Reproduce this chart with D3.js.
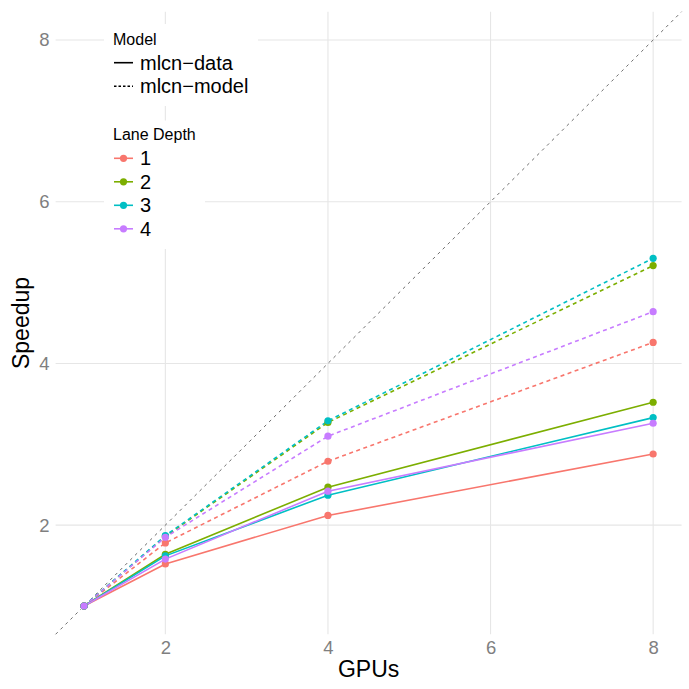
<!DOCTYPE html>
<html>
<head>
<meta charset="utf-8">
<script src="https://cdn.jsdelivr.net/npm/d3@7"></script>
<style>
  html, body { margin: 0; padding: 0; background: #fff; }
  text { font-family: "Liberation Sans", Arial, Helvetica, sans-serif; }
</style>
</head>
<body>
<svg id="chart"></svg>
<script>
const width = 689;
const height = 689;

// data
const gpus = [1, 2, 4, 8];
const laneDepths = ["1", "2", "3", "4"];
const laneColors = ["#F8766D", "#7CAE00", "#00BFC4", "#C77CFF"];
const modelNames = ["mlcn−data", "mlcn−model"];

const dataLane1 = [1, 1.52, 2.12, 2.88];
const dataLane2 = [1, 1.64, 2.47, 3.52];
const dataLane3 = [1, 1.62, 2.37, 3.33];
const dataLane4 = [1, 1.58, 2.42, 3.26];

const modelLane1 = [1, 1.78, 2.79, 4.26];
const modelLane2 = [1, 1.86, 3.27, 5.21];
const modelLane3 = [1, 1.87, 3.29, 5.30];
const modelLane4 = [1, 1.85, 3.10, 4.64];

const xTicks = [2, 4, 6, 8];
const yTicks = [2, 4, 6, 8];

const series = [
  { model: 0, lane: 0, values: dataLane1 },
  { model: 0, lane: 1, values: dataLane2 },
  { model: 0, lane: 2, values: dataLane3 },
  { model: 0, lane: 3, values: dataLane4 },
  { model: 1, lane: 0, values: modelLane1 },
  { model: 1, lane: 1, values: modelLane2 },
  { model: 1, lane: 2, values: modelLane3 },
  { model: 1, lane: 3, values: modelLane4 },
];

const margin = { top: 11.7, right: 7.4, bottom: 54.7, left: 55.6 };
const pad = 0.35;

const svg = d3.select("#chart").attr("width", width).attr("height", height);

const x = d3.scaleLinear()
  .domain([1 - pad, 8 + pad])
  .range([margin.left, width - margin.right]);
const y = d3.scaleLinear()
  .domain([1 - pad, 8 + pad])
  .range([height - margin.bottom, margin.top]);

const grid = svg.append("g");
grid.selectAll(".vg")
  .data(xTicks)
  .enter()
  .append("line")
  .attr("x1", (d) => x(d)).attr("x2", (d) => x(d))
  .attr("y1", y.range()[0]).attr("y2", y.range()[1])
  .attr("stroke", "#E6E6E6")
  .attr("stroke-width", 1.1);
grid.selectAll(".hg")
  .data(yTicks)
  .enter()
  .append("line")
  .attr("y1", (d) => y(d)).attr("y2", (d) => y(d))
  .attr("x1", x.range()[0]).attr("x2", x.range()[1])
  .attr("stroke", "#E6E6E6")
  .attr("stroke-width", 1.1);

// axes (no domain line, no ticks, like theme_minimal)
const xAxis = svg.append("g")
  .attr("transform", `translate(0,${height - margin.bottom})`)
  .call(d3.axisBottom(x).tickValues(xTicks).tickSize(0).tickPadding(7));
const yAxis = svg.append("g")
  .attr("transform", `translate(${margin.left},0)`)
  .call(d3.axisLeft(y).tickValues(yTicks).tickSize(0).tickPadding(6));
[xAxis, yAxis].forEach((a) => {
  a.select(".domain").remove();
  a.selectAll("text")
    .attr("fill", "#7F7F7F")
    .style("font-size", "18.5px")
    .style("font-family", '"Liberation Sans", Arial, sans-serif');
});
xAxis.selectAll("text").attr("dy", "0.71em");

svg.append("text")
  .attr("x", (x.range()[0] + x.range()[1]) / 2)
  .attr("y", 677)
  .attr("text-anchor", "middle")
  .style("font-size", "23px")
  .text("GPUs");
svg.append("text")
  .attr("transform", `translate(29,${(y.range()[0] + y.range()[1]) / 2}) rotate(-90)`)
  .attr("text-anchor", "middle")
  .style("font-size", "23px")
  .text("Speedup");

// y = x reference
svg.append("line")
  .attr("x1", x(1 - pad)).attr("y1", y(1 - pad))
  .attr("x2", x(8 + pad)).attr("y2", y(8 + pad))
  .attr("stroke", "#6E6E6E")
  .attr("stroke-width", 1)
  .attr("stroke-dasharray", "3,4");

const line = d3.line()
  .x((d, i) => x(gpus[i]))
  .y((d) => y(d));

const plot = svg.append("g");
plot.selectAll(".series")
  .data(series)
  .enter()
  .append("path")
  .attr("d", (d) => line(d.values))
  .attr("fill", "none")
  .attr("stroke", (d) => laneColors[d.lane])
  .attr("stroke-width", 1.6)
  .attr("stroke-dasharray", (d) => (d.model === 1 ? "4,3.5" : null));

series.forEach((s) => {
  plot.selectAll(null)
    .data(s.values)
    .enter()
    .append("circle")
    .attr("cx", (d, i) => x(gpus[i]))
    .attr("cy", (d) => y(d))
    .attr("r", 3.6)
    .attr("fill", laneColors[s.lane]);
});

// legends
const legend = svg.append("g");
legend.append("rect")
  .attr("x", 104).attr("y", 24).attr("width", 154).attr("height", 82)
  .attr("fill", "#fff");
legend.append("rect")
  .attr("x", 104).attr("y", 120.5).attr("width", 101).attr("height", 128.5)
  .attr("fill", "#fff");

legend.append("text")
  .attr("x", 113).attr("y", 45)
  .style("font-size", "16px")
  .text("Model");

const modelRows = legend.selectAll(".modelRow")
  .data(modelNames)
  .enter()
  .append("g")
  .attr("transform", (d, i) => `translate(0,${62.7 + i * 23.5})`);
modelRows.append("line")
  .attr("x1", 114).attr("x2", 133)
  .attr("stroke", "#000")
  .attr("stroke-width", 1.6)
  .attr("stroke-dasharray", (d, i) => (i === 1 ? "2.5,2" : null));
modelRows.append("text")
  .attr("x", 140)
  .attr("dy", "0.35em")
  .style("font-size", "20px")
  .text((d) => d);

legend.append("text")
  .attr("x", 113).attr("y", 140)
  .style("font-size", "16px")
  .text("Lane Depth");

const laneRows = legend.selectAll(".laneRow")
  .data(laneDepths)
  .enter()
  .append("g")
  .attr("transform", (d, i) => `translate(0,${158.3 + i * 23.5})`);
laneRows.append("line")
  .attr("x1", 114).attr("x2", 133)
  .attr("stroke", (d, i) => laneColors[i])
  .attr("stroke-width", 1.6);
laneRows.append("circle")
  .attr("cx", 123.5)
  .attr("r", 3.6)
  .attr("fill", (d, i) => laneColors[i]);
laneRows.append("text")
  .attr("x", 140)
  .attr("dy", "0.35em")
  .style("font-size", "20px")
  .text((d) => d);
</script>
</body>
</html>
